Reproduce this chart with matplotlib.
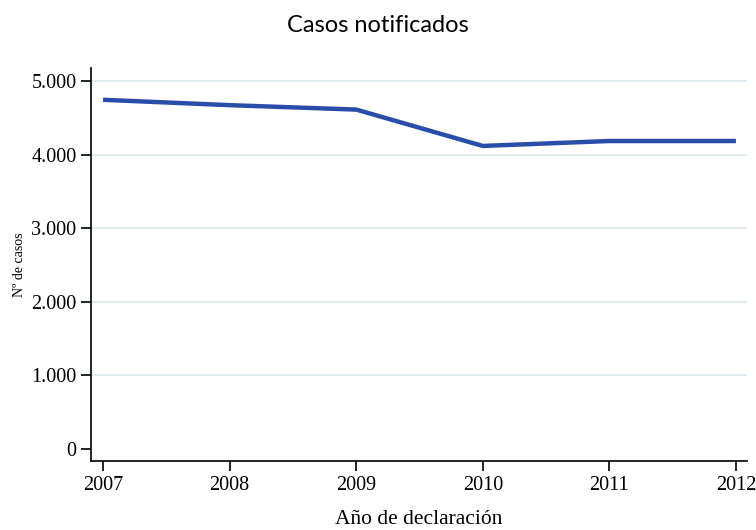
import matplotlib
matplotlib.use("Agg")
import matplotlib.pyplot as plt
from matplotlib.ticker import FuncFormatter

years = [2007, 2008, 2009, 2010, 2011, 2012]
casos = [4745, 4672, 4612, 4118, 4185, 4185]
y_ticks = [0, 1000, 2000, 3000, 4000, 5000]

fig = plt.figure(figsize=(7.56, 5.30), dpi=100)
ax = fig.add_axes([0.1204, 0.1302, 0.8676, 0.7415])

for t in y_ticks[1:]:
    ax.axhline(t, color="#dcebec", lw=1.3, zorder=0)
ax.plot(years, casos, color="#2a4da9", lw=3.2, solid_capstyle="butt", zorder=3)

ax.set_xlim(2006.905, 2012.087)
ax.set_ylim(-163, 5177)
ax.set_xticks(years)
ax.set_yticks(y_ticks)
ax.yaxis.set_major_formatter(FuncFormatter(lambda v, p: f"{int(v):,}".replace(",", ".")))

for s in ["top", "right"]:
    ax.spines[s].set_visible(False)
ax.spines["left"].set_linewidth(1.2)
ax.spines["bottom"].set_linewidth(1.2)
ax.tick_params(length=7, width=1.2, color="black", labelsize=14.5)
for lab in ax.get_xticklabels() + ax.get_yticklabels():
    lab.set_family("Liberation Serif")

ax.set_xlabel("Año de declaración", family="Liberation Serif", fontsize=15.5, labelpad=11)
ax.set_ylabel("Nº de casos", family="Liberation Serif", fontsize=10, labelpad=4)
fig.suptitle("Casos notificados", family="Lato", fontsize=17, y=0.972)

fig.savefig("out.png", dpi=100)
